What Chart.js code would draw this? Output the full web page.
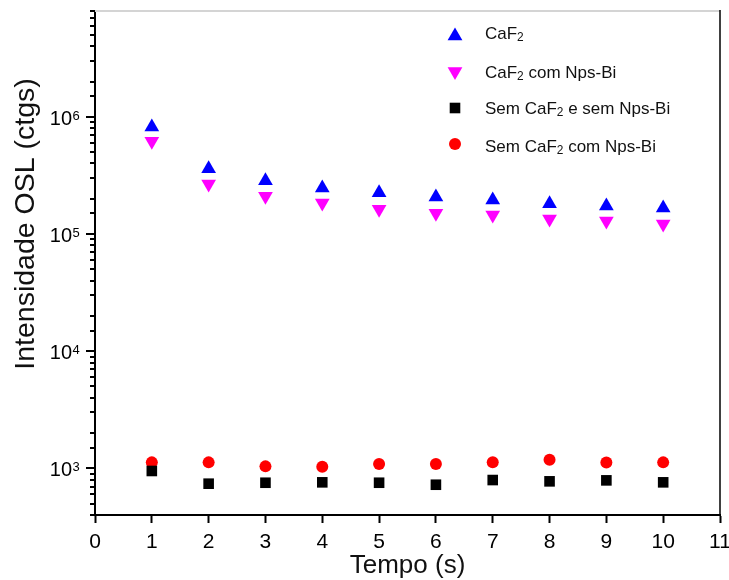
<!DOCTYPE html>
<html>
<head>
<meta charset="utf-8">
<script src="https://cdn.jsdelivr.net/npm/chart.js@4.4.0/dist/chart.umd.min.js"></script>
<style>
  html, body { margin: 0; padding: 0; background: #fff; }
  #wrap { width: 729px; height: 580px; }
</style>
</head>
<body>
<div id="wrap"><canvas id="myChart" width="729" height="580"></canvas></div>
<script>
const ctx = document.getElementById('myChart').getContext('2d');

// tempo (s) and OSL intensity per sample
const tempo = [1, 2, 3, 4, 5, 6, 7, 8, 9, 10];
const caf2 = [8.2e5, 3.6e5, 2.85e5, 2.47e5, 2.25e5, 2.07e5, 1.95e5, 1.81e5, 1.73e5, 1.67e5];
const caf2Nps = [6.2e5, 2.67e5, 2.1e5, 1.84e5, 1.63e5, 1.5e5, 1.45e5, 1.34e5, 1.29e5, 1.22e5];
const semAmbos = [950, 740, 754, 760, 754, 725, 795, 775, 790, 760];
const semCaf2Nps = [1125, 1125, 1040, 1030, 1090, 1090, 1130, 1185, 1120, 1125];

const labels = ['CaF|2', 'CaF|2| com Nps-Bi', 'Sem CaF|2| e sem Nps-Bi', 'Sem CaF|2| com Nps-Bi'];
const yMin = 400, yMax = 8e6;

const FONT = "'Liberation Sans', Arial, sans-serif";

function pts(ys) {
  return tempo.map((t, i) => ({ x: t, y: ys[i] }));
}

const data = {
  datasets: [
    { label: labels[0], data: pts(caf2), pointStyle: 'triangle', pointRadius: 8.5, rotation: 0,
      backgroundColor: '#0000ff', borderColor: '#0000ff', borderWidth: 0 },
    { label: labels[1], data: pts(caf2Nps), pointStyle: 'triangle', pointRadius: 8.5, rotation: 180,
      backgroundColor: '#ff00ff', borderColor: '#ff00ff', borderWidth: 0 },
    { label: labels[2], data: pts(semAmbos), pointStyle: 'rect', pointRadius: 7.5,
      backgroundColor: '#000000', borderColor: '#000000', borderWidth: 0 },
    { label: labels[3], data: pts(semCaf2Nps), pointStyle: 'circle', pointRadius: 6,
      backgroundColor: '#ff0000', borderColor: '#ff0000', borderWidth: 0 }
  ]
};

// draws text with "|2|" parts as subscripts
function subText(c, str, x, y, size) {
  const parts = str.split('|');
  let cx = x;
  parts.forEach((p, i) => {
    if (!p) return;
    if (i % 2 === 1) {
      c.font = (size * 0.7) + 'px ' + FONT;
      c.fillText(p, cx, y + size * 0.22);
    } else {
      c.font = size + 'px ' + FONT;
      c.fillText(p, cx, y);
    }
    cx += c.measureText(p).width;
  });
}

function marker(c, style, x, y) {
  c.beginPath();
  if (style === 'up') {
    c.moveTo(x, y - 8.5); c.lineTo(x + 7.4, y + 4.25); c.lineTo(x - 7.4, y + 4.25);
  } else if (style === 'down') {
    c.moveTo(x, y + 8.5); c.lineTo(x + 7.4, y - 4.25); c.lineTo(x - 7.4, y - 4.25);
  } else if (style === 'rect') {
    c.rect(x - 5.3, y - 5.3, 10.6, 10.6);
  } else {
    c.arc(x, y, 6, 0, Math.PI * 2);
  }
  c.closePath();
  c.fill();
}

const extras = {
  id: 'extras',
  afterDraw(chart) {
    const c = chart.ctx;
    const a = chart.chartArea;
    const ys = chart.scales.y;
    c.save();
    // frame top and right
    c.strokeStyle = '#d4d4d4';
    c.lineWidth = 2;
    c.beginPath(); c.moveTo(a.left, a.top); c.lineTo(a.right, a.top); c.stroke();
    c.strokeStyle = '#000';
    c.lineWidth = 1.5;
    c.beginPath(); c.moveTo(a.right, a.top - 1); c.lineTo(a.right, a.bottom); c.stroke();

    // log ticks on y
    c.lineWidth = 2;
    ys.ticks.forEach(t => {
      const py = Math.round(ys.getPixelForValue(t.value));
      const lg = Math.log10(t.value);
      const major = Math.abs(lg - Math.round(lg)) < 1e-9;
      c.beginPath();
      c.moveTo(a.left - (major ? 9 : 5), py);
      c.lineTo(a.left, py);
      c.stroke();
      if (major) {
        c.fillStyle = '#000';
        c.textAlign = 'right';
        c.textBaseline = 'alphabetic';
        c.font = '20px ' + FONT;
        c.fillText('10', 72, py + 7.5);
        c.textAlign = 'left';
        c.font = '13px ' + FONT;
        c.fillText(String(Math.round(lg)), 72.5, py + 2.5);
      }
    });

    // y title
    c.save();
    c.translate(26, 224);
    c.rotate(-Math.PI / 2);
    c.fillStyle = '#111';
    c.textAlign = 'center';
    c.textBaseline = 'middle';
    c.font = '28.5px ' + FONT;
    c.fillText('Intensidade OSL (ctgs)', 0, 0);
    c.restore();

    // legend
    const styles = ['up', 'down', 'rect', 'circle'];
    const markY = [36, 71.5, 108, 144];
    const textY = [34, 73, 109, 147];
    c.textAlign = 'left';
    c.textBaseline = 'middle';
    chart.data.datasets.forEach((ds, i) => {
      c.fillStyle = ds.backgroundColor;
      marker(c, styles[i], 455, markY[i]);
      c.fillStyle = '#111';
      subText(c, ds.label, 485, textY[i], 17);
    });
    c.restore();
  }
};

const myChart = new Chart(ctx, {
  type: 'scatter',
  data: data,
  options: {
    responsive: false,
    animation: false,
    devicePixelRatio: 1,
    layout: { padding: { top: 11, right: 9, left: 0, bottom: 0 } },
    plugins: { legend: { display: false }, tooltip: { enabled: false } },
    scales: {
      x: {
        type: 'linear',
        min: 0,
        max: 11,
        afterFit: s => { s.height = 65; s.paddingLeft = 0; s.paddingRight = 0; },
        ticks: { stepSize: 1, color: '#000', font: { family: FONT, size: 21 }, padding: 7 },
        grid: { drawOnChartArea: false, drawTicks: true, tickLength: 8, tickWidth: 2, tickColor: '#000' },
        border: { color: '#000', width: 2 },
        title: { display: true, text: 'Tempo (s)', color: '#111', font: { family: FONT, size: 26 }, padding: { top: 0, bottom: -1 } }
      },
      y: {
        type: 'logarithmic',
        min: yMin,
        max: yMax,
        afterFit: s => { s.width = 95; },
        ticks: { display: false },
        grid: { drawOnChartArea: false, drawTicks: false },
        border: { color: '#000', width: 2 }
      }
    }
  },
  plugins: [extras]
});
</script>
</body>
</html>
